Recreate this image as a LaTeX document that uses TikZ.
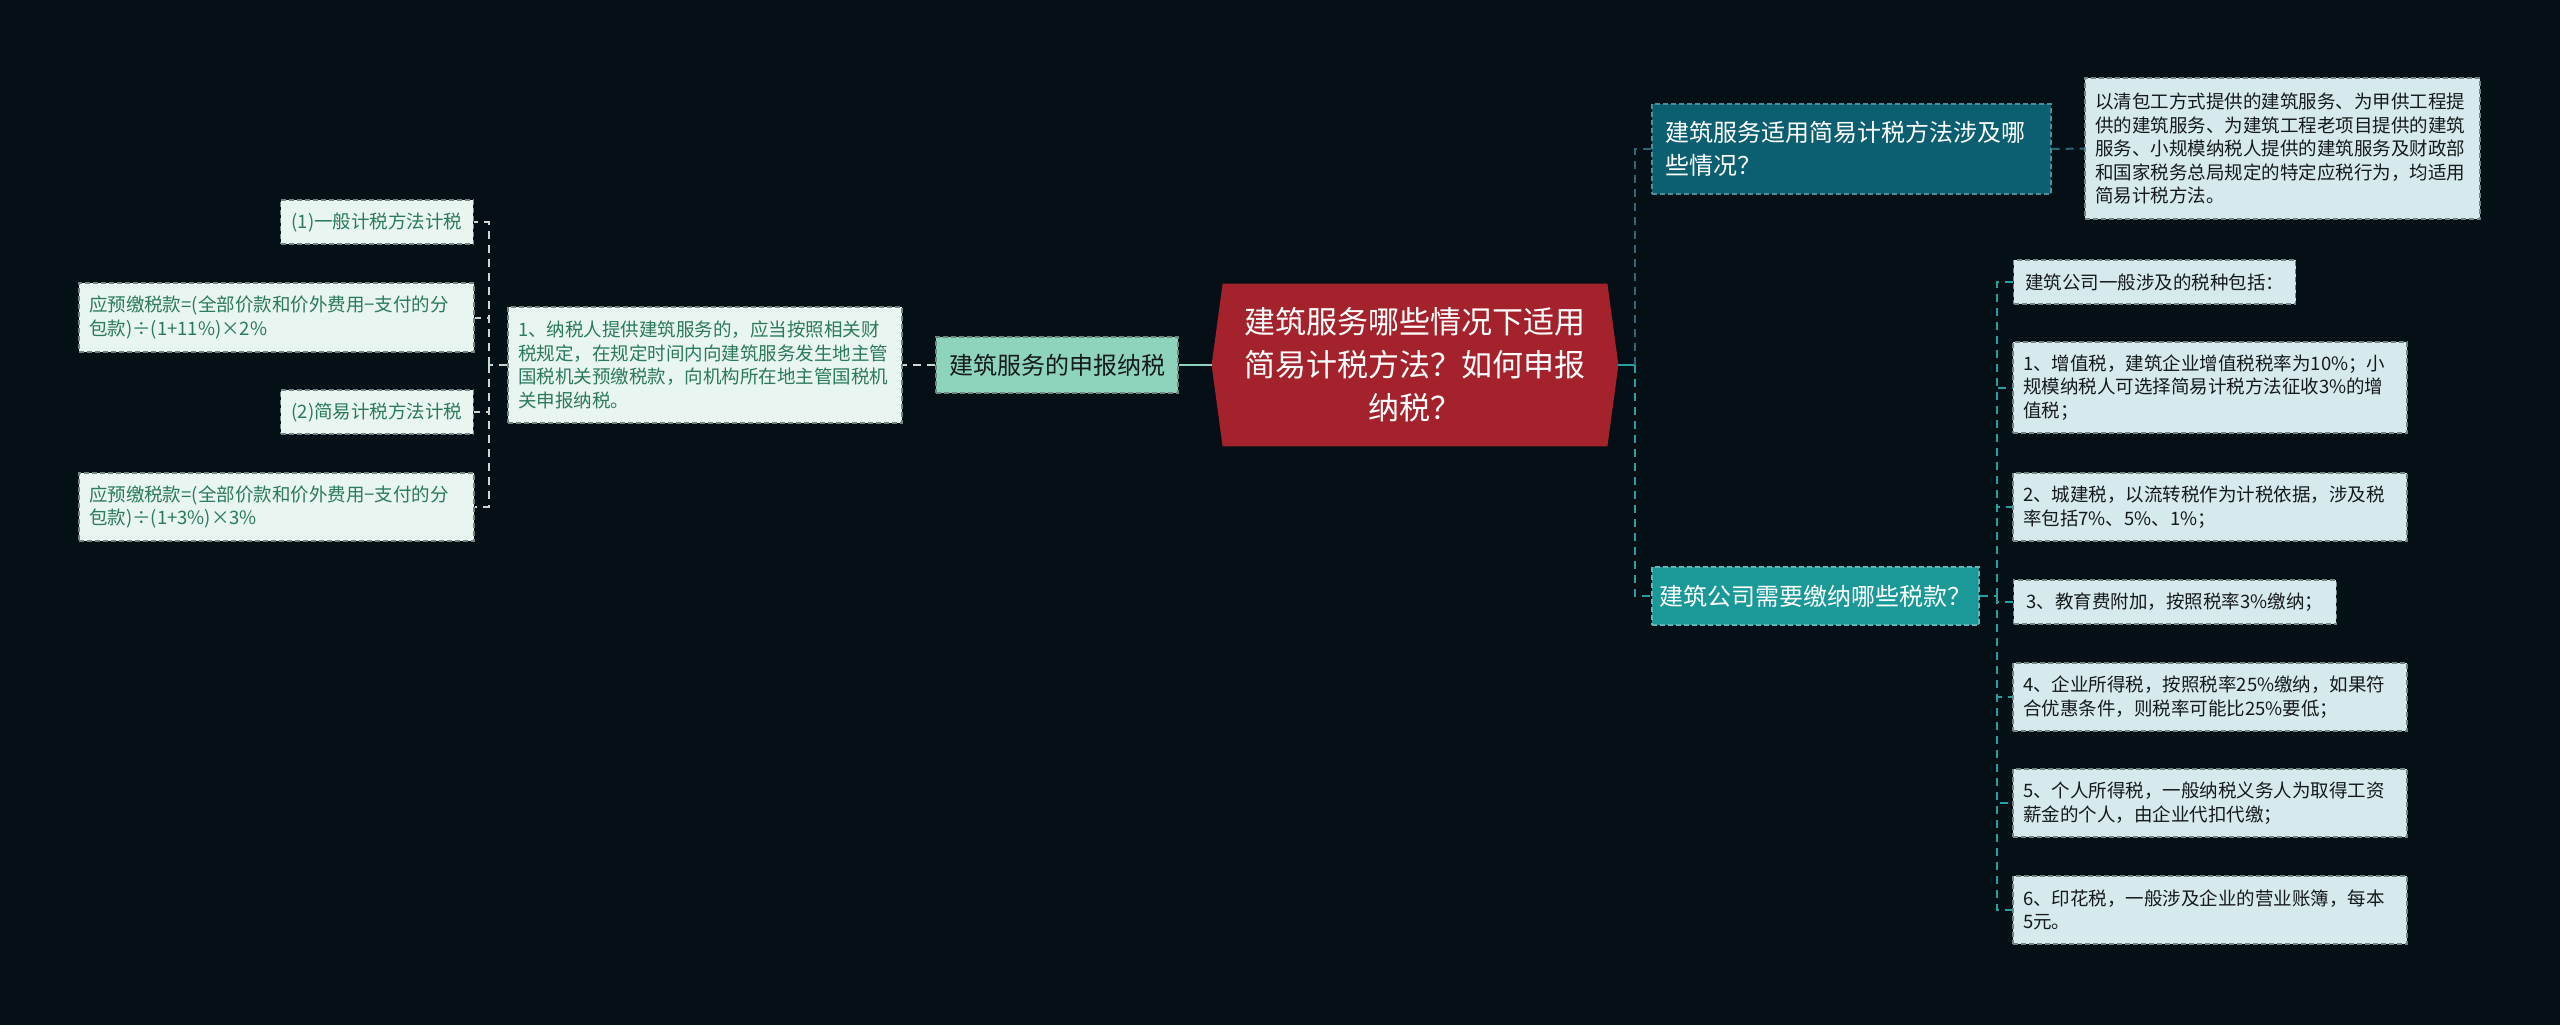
\documentclass[tikz,border=0pt]{standalone}
\usepackage{fontspec}
\setmainfont{Noto Sans CJK SC}
\pgfdeclarelayer{bglayer}
\pgfdeclarelayer{midlayer}
\pgfsetlayers{bglayer,midlayer,main}
\definecolor{bgc}{HTML}{050F16}
\definecolor{hexred}{HTML}{A3222B}
\definecolor{tealA}{HTML}{0C5E71}
\definecolor{tealB}{HTML}{1B9898}
\definecolor{mintc}{HTML}{8ED3BC}
\definecolor{leafG}{HTML}{E9F5F0}
\definecolor{leafGT}{HTML}{2A7A5B}
\definecolor{leafB}{HTML}{D6E9EC}
\definecolor{leafBT}{HTML}{151A1C}
\definecolor{bordL}{HTML}{6F8580}
\definecolor{bordTA}{HTML}{4E8E9C}
\definecolor{bordTB}{HTML}{5CB8B8}
\definecolor{lconn}{HTML}{C9D9D2}
\definecolor{rconnA}{HTML}{2D6677}
\definecolor{rconnB}{HTML}{25A0A0}
\tikzset{
  boxbase/.style={draw, line width=0.6pt, dash pattern=on 2.5pt off 1.5pt, inner ysep=0pt},
  leafL/.style={boxbase, draw=bordL, fill=leafG, text=leafGT, font=\fontsize{9.25pt}{11.75pt}\selectfont, align=left, inner xsep=5pt},
  leafR/.style={boxbase, draw=bordL, fill=leafB, text=leafBT, font=\fontsize{9.25pt}{11.75pt}\selectfont, align=left, inner xsep=5pt},
  ldash/.style={draw=lconn, line width=1pt, dash pattern=on 4pt off 3pt},
  rdashA/.style={draw=rconnA, line width=1pt, dash pattern=on 4pt off 3pt},
  rdashB/.style={draw=rconnB, line width=1pt, dash pattern=on 4pt off 3pt},
}
\begin{document}
\begin{tikzpicture}[x=0.5pt,y=-0.5pt]
\begin{pgfonlayer}{bglayer}
\fill[bgc] (0,0) rectangle (2560,1025);
\end{pgfonlayer}
\useasboundingbox (0,0) rectangle (2560,1025);

% central node
\node[minimum width=203pt, minimum height=81pt, inner sep=0pt, text=white, align=center,
      font=\fontsize{15.5pt}{21.5pt}\selectfont] (c) at (1415,365)
  {建筑服务哪些情况下适用\\简易计税方法？如何申报\\纳税？};
\begin{pgfonlayer}{midlayer}
\fill[hexred] (c.west) -- ([xshift=5.5pt]c.north west) -- ([xshift=-5.5pt]c.north east)
  -- (c.east) -- ([xshift=-5.5pt]c.south east) -- ([xshift=5.5pt]c.south west) -- cycle;
\end{pgfonlayer}

% left branch
\node[boxbase, draw=bordL, fill=mintc, text=leafBT, minimum width=121pt, minimum height=28pt,
      inner xsep=0pt, font=\fontsize{12pt}{16pt}\selectfont] (m1) at (1057,365) {建筑服务的申报纳税};
\node[leafL, minimum width=197pt, minimum height=58pt, text width=187pt] (t1) at (705,365)
  {1、纳税人提供建筑服务的，应当按照相关财\\税规定，在规定时间内向建筑服务发生地主管\\国税机关预缴税款，向机构所在地主管国税机\\关申报纳税。};
\node[leafL, anchor=east, minimum height=22pt, inner xsep=5.5pt] (la) at (474,222) {(1)一般计税方法计税};
\node[leafL, minimum width=197.5pt, minimum height=34.5pt, text width=187.5pt] (lb) at (276.5,317.5)
  {应预缴税款=(全部价款和价外费用−支付的分\\包款)÷(1+11\%)×2\%};
\node[leafL, anchor=east, minimum height=22pt, inner xsep=5.5pt] (lc) at (474,412) {(2)简易计税方法计税};
\node[leafL, minimum width=197.5pt, minimum height=34pt, text width=187.5pt] (ld) at (276.5,507)
  {应预缴税款=(全部价款和价外费用−支付的分\\包款)÷(1+3\%)×3\%};

% right branch
\node[boxbase, draw=bordTA, fill=tealA, text=white, minimum width=199.5pt, minimum height=45pt,
      text width=186.5pt, inner xsep=6.5pt, align=left, font=\fontsize{12pt}{16.5pt}\selectfont] (r1) at (1851.5,149)
  {建筑服务适用简易计税方法涉及哪\\些情况？};
\node[leafR, minimum width=197.5pt, minimum height=70.5pt, text width=187.5pt] (r1a) at (2282.5,148.5)
  {以清包工方式提供的建筑服务、为甲供工程提\\供的建筑服务、为建筑工程老项目提供的建筑\\服务、小规模纳税人提供的建筑服务及财政部\\和国家税务总局规定的特定应税行为，均适用\\简易计税方法。};
\node[boxbase, draw=bordTB, fill=tealB, text=white, minimum width=163.5pt, minimum height=29pt,
      inner xsep=0pt, font=\fontsize{12pt}{16pt}\selectfont] (r2) at (1815.5,596) {建筑公司需要缴纳哪些税款？};

\node[leafR, anchor=west, minimum height=22pt, inner xsep=5.75pt] (ra) at (2013,282) {建筑公司一般涉及的税种包括：};
\node[leafR, minimum width=197pt, minimum height=45.5pt, text width=187pt] (rb) at (2210,387.5)
  {1、增值税，建筑企业增值税税率为10\%；小\\规模纳税人可选择简易计税方法征收3\%的增\\值税；};
\node[leafR, minimum width=197pt, minimum height=34pt, text width=187pt] (rc) at (2210,507)
  {2、城建税，以流转税作为计税依据，涉及税\\率包括7\%、5\%、1\%；};
\node[leafR, anchor=west, minimum height=22pt, inner xsep=6.5pt] (rd) at (2013,602) {3、教育费附加，按照税率3\%缴纳；};
\node[leafR, minimum width=197pt, minimum height=34pt, text width=187pt] (re) at (2210,697)
  {4、企业所得税，按照税率25\%缴纳，如果符\\合优惠条件，则税率可能比25\%要低；};
\node[leafR, minimum width=197pt, minimum height=34pt, text width=187pt] (rf) at (2210,803)
  {5、个人所得税，一般纳税义务人为取得工资\\薪金的个人，由企业代扣代缴；};
\node[leafR, minimum width=197pt, minimum height=34pt, text width=187pt] (rg) at (2210,910)
  {6、印花税，一般涉及企业的营业账簿，每本\\5元。};

% connectors left
\draw[draw=mintc, line width=1pt] (c.west) -- (m1.east);
\draw[ldash] (m1.west) -- (t1.east);
\draw[ldash] (t1.west) -- ++(-18,0) coordinate (lj);
\foreach \n in {la,lb,lc,ld} \draw[ldash] (lj) |- (\n.east);

% connectors right
\draw[draw=rconnB, line width=1pt] (c.east) -- ++(17,0) coordinate (rj);
\draw[rdashA] (rj) |- (r1.west);
\draw[rdashB] (rj) |- (r2.west);
\draw[rdashA] (r1.east) -- (r1a.west);
\draw[rdashB] (r2.east) -- ++(17,0) coordinate (rk);
\foreach \n in {ra,rb,rc,rd,re,rf,rg} \draw[rdashB] (rk) |- (\n.west);
\end{tikzpicture}
\end{document}
